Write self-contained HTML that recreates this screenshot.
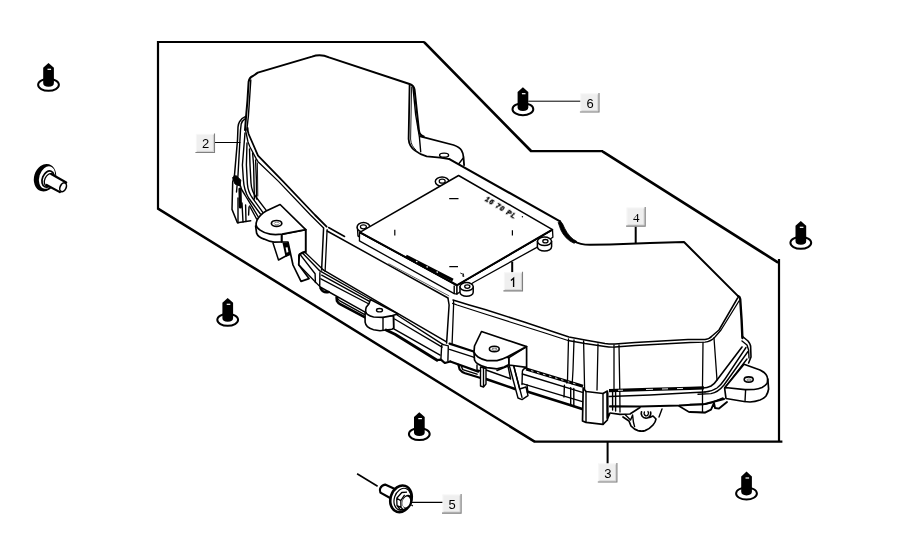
<!DOCTYPE html>
<html><head><meta charset="utf-8">
<style>
html,body{margin:0;padding:0;background:#fff;}
body{width:898px;height:553px;overflow:hidden;font-family:"Liberation Sans",sans-serif;}
svg{display:block;position:absolute;left:0;top:0;will-change:transform;}
.f{fill:none;stroke:#000;stroke-width:2.2;stroke-linejoin:miter;stroke-linecap:butt;}
.a{fill:none;stroke:#000;stroke-width:1.9;stroke-linejoin:round;stroke-linecap:round;}
.b{fill:none;stroke:#000;stroke-width:1.4;stroke-linejoin:round;stroke-linecap:round;}
.c{fill:none;stroke:#000;stroke-width:0.9;stroke-linejoin:round;stroke-linecap:round;}
.w{fill:#fff;stroke:#000;stroke-width:1.4;stroke-linejoin:round;}
.lt{font-family:"Liberation Sans",sans-serif;font-size:13px;fill:#000;text-anchor:middle;}
.ls{font-family:"Liberation Serif",serif;font-size:13px;fill:#000;text-anchor:middle;}
</style></head><body>
<svg width="898" height="553" viewBox="0 0 898 553">
<defs>
<g id="clip">
  <ellipse cx="0" cy="21.9" rx="10.4" ry="6" fill="#fff" stroke="#000" stroke-width="2"/>
  <path d="M0,0 L5.4,4.8 L5.4,20 Q5.4,23.8 0,23.8 Q-5.3,23.8 -5.3,20 L-5.3,4.8 Z" fill="#000"/>
  <path d="M-1,6.4 L2.6,6.4" stroke="#fff" stroke-width="1.2" fill="none"/>
</g>
<g id="lab">
  <rect x="0" y="0" width="19" height="19" fill="#efefef"/>
  <path d="M0,0.4 L17,0.4 M0.4,0 L0.4,17" fill="none" stroke="#f8f8f8" stroke-width="0.8"/>
  <path d="M1,17.4 L17.4,17.4 L17.4,1" fill="none" stroke="#cfcfcf" stroke-width="1"/>
  <path d="M-0.6,18.5 L18.5,18.5 L18.5,-0.6" fill="none" stroke="#808080" stroke-width="1.1"/>
</g>
</defs>
<rect width="898" height="553" fill="#fff"/>

<!-- FRAME -->
<g id="frame">
<path class="f" d="M158,209.4 L158,42 L424.4,42"/>
<path class="f" d="M530.6,151.2 L603,151.2"/>
<path class="f" style="stroke-width:2.7;stroke-linecap:round" d="M424.6,42.6 L530.8,150.8"/>
<path class="f" style="stroke-width:2.6;stroke-linecap:round" d="M603.2,151.8 L777.4,262.1"/>
<path class="f" d="M779,259 L779,442"/>
<path class="f" d="M782.4,441.6 L534.4,441.6"/>
<path class="f" style="stroke-width:2.45;stroke-linecap:round" d="M534.2,441.4 L158.4,208.9"/>
</g>

<g id="body">
<!-- ===== cover top silhouette ===== -->
<path class="a" style="stroke-width:2" d="M245,130 L246.2,115 L247.5,100 L248.6,82 Q249.2,77.5 253,76 L257.8,72.6 L312,56.6 Q320.5,53.4 329,57.4 L409.5,84 Q414,85.6 414.6,90 L419,131 Q419.6,135.3 423.7,136.5"/>
<path class="b" d="M250.8,80 L249.5,100 L248.4,116 L246.8,130"/>
<!-- cover right notch wall -->
<path class="a" style="stroke-width:1.8" d="M409.6,85 L408.6,139 Q409,146 414.7,150.4 Q420,154.6 426.7,156.4 L440.1,157.7 L449.4,159.1"/>
<path class="c" d="M411.6,87 L410.6,139 Q411,146 416,150"/>
<path class="b" d="M413,87.7 L415.7,115 L419.4,137 L420.7,151.7"/>
<!-- rear tab -->
<path class="a" style="stroke-width:1.8" d="M420.2,136.3 L453.5,145 Q459.5,147 461.5,150.4 Q463.3,153.5 463.5,157.1 L464.1,165.1"/>
<path class="b" d="M458.8,163.8 L463.3,158"/>
<ellipse cx="444.1" cy="155.2" rx="4.5" ry="2.1" fill="#fff" stroke="#000" stroke-width="1.4"/>
<!-- back edge -->
<path class="a" style="stroke-width:2.1" d="M449.4,159.1 L559.6,221.1"/>
<path d="M560.1,220.6 Q562.6,223 564.7,228.4 Q567,233 570.1,236.4 Q573,239.6 576.8,241.4 L574.1,243.3 Q569.6,241.4 566.1,237.8 Q562.6,234 560.7,229.7 Q559.4,226 558.2,222.6 Z" fill="#000" stroke="#000" stroke-width="0.8" stroke-linejoin="round"/>
<path class="a" style="stroke-width:2" d="M573.5,241 Q580,244.7 590,244.8 L610,244.4 L650,243.1 L684,242 L738.6,296.6"/>

<!-- ===== left side ===== -->
<!-- cover lower-left curve + diagonal double line -->
<path class="a" style="stroke-width:1.8" d="M247.6,128 Q247.6,131 248.6,134 L253.4,145 L258,155.7 L282.8,181.1 L315,215 L326.6,226.6"/>
<path class="b" style="stroke-width:1.3" d="M245.5,130 L248,142 L250,147 L256,158.4 L258,161.7 L278.5,181.4 L310.5,215 L323.4,227.7"/>
<!-- fin -->
<path class="a" style="stroke-width:1.5" d="M245.7,116.4 Q241.6,118 239.6,121.6 Q238.2,124 238,127 L237.5,140 L234.5,175 L232.7,182 L232,209.4 L237.4,222.8 L250.7,220.8"/>
<path class="b" d="M245,118.8 Q242.2,120.4 241.2,124 L240.5,130 L238,175 L236.5,192"/>
<path class="b" d="M245,133 L242.4,165 L243.4,180 Q244,190 248.6,198 L260.4,214"/>
<path class="b" d="M247,143 L246.4,165 L247.4,184 Q248,192 252.5,198 L263,212.6"/>
<path class="b" d="M249.5,149 L250,165 L251,183 Q251.5,191 256,197 L267,211.4"/>
<path class="b" d="M252.6,153 L253.6,165 L254.4,199"/>
<path class="b" d="M255.6,160 L256.4,180 L256.6,199"/>
<path class="c" d="M257.4,163 L257.8,196"/>
<!-- left connector block details -->
<path d="M232.6,177.5 L236,175.6 L240.8,180 L240,186 L235,184 Z" fill="#000" stroke="#000" stroke-width="1"/>
<path class="a" style="stroke-width:3.2" d="M240,189 L240.4,207"/>
<path class="b" d="M238,198 L238,223"/>
<path class="b" d="M242,203 L243,222"/>
<path class="b" d="M245.6,205 L246,221.6"/>
<path class="b" d="M249,207 L248.6,215"/>
<!-- curved rails into left tab -->
<path class="b" d="M239.5,183 Q241,190 245,195 L258,216.5"/>
<path class="b" d="M249.6,206 L256.6,219"/>
<!-- left tab -->
<path class="w" style="stroke-width:1.7" d="M281.6,234.4 L305.7,229.6 L305.7,252 L299.4,254.4 L298.7,264.7 L309,278.6 L301,281.4 L293,265 L288,242 L281.6,241.8 Z"/>
<path class="w" style="stroke-width:1.7" d="M255.6,226 L256.6,233.1 Q258,237 264.1,239.1 Q269,241.6 274.1,242.1 L281.6,241.8 L281.6,234.4 Z"/>
<path class="w" style="stroke-width:1.7" d="M280.1,204.5 L305.7,229.6 L282.1,234.1 Q275,235 270.1,234.1 Q264,233 260.1,230.1 Q256.4,227.6 256.1,225.1 Q256,222.6 257.1,220 Q260,214.6 266.1,211 Z"/>
<path class="b" d="M281.6,234.6 L281.6,241.6"/>
<path class="a" style="stroke-width:1.5" d="M305.7,229.6 L305.7,252.7"/>
<ellipse cx="276.6" cy="223.4" rx="5.2" ry="2.9" fill="#fff" stroke="#000" stroke-width="1.7"/>
<ellipse cx="276.8" cy="223.5" rx="2.6" ry="1.2" fill="none" stroke="#777" stroke-width="0.8"/>
<!-- corner vertical edge -->
<path class="a" style="stroke-width:1.5" d="M323.6,228 L321.6,270"/>
<path class="b" style="stroke-width:1.3" d="M327.1,229.6 L325.1,271.4"/>
<!-- cover top front edge (left part) -->
<path class="a" style="stroke-width:1.5" d="M328.6,227.5 L344.6,236.5"/>
<path class="a" style="stroke-width:1.5" d="M327.1,231 L385,263.1 L448,298"/>
<path class="c" style="stroke:#555" d="M388.8,263.8 L448.9,295.8"/>
<!-- left tab legs -->
<path class="b" style="stroke-width:1.5" d="M273,243 L278.5,260 L287.7,255"/>
<path d="M282.4,242.6 L288.4,242.4 L290.6,255 L285.6,257 Z" fill="#000"/><path d="M285.6,247.6 L287.6,247.2 L288.4,252 L286.6,252.8 Z" fill="#fff"/>
<!-- lower-left rail seg 1 -->
<path class="b" style="stroke-width:1.3" d="M304.7,252 L323.2,269.8"/>
<path class="b" d="M302.5,253 L319.4,270.6"/>
<path class="b" style="stroke-width:1.3" d="M305.5,251.4 Q300.5,252 298.7,255.4 L298.7,264.7 L315.4,282 L319.7,286.4"/>
<path class="b" d="M300,254.4 L315.1,273.7 L315.4,282.5"/>
<path class="b" d="M319.9,272.6 L319.7,286.2"/>
<!-- rail seg 2 -->
<path class="a" style="stroke-width:1.5" d="M323.2,269.8 L395,311.8 L446.1,341.6"/>
<path class="b" d="M319.4,270.6 L370.5,299.5"/>
<path class="b" d="M321.7,275.2 L369,301.2"/>
<path class="b" d="M320.9,278.8 L369,304"/>
<path class="a" style="stroke-width:1.5" d="M320.1,287 L352.1,304.8 L365.1,312.2"/>
<path class="a" style="stroke-width:2.4" d="M320.4,288 Q323,293.4 328.7,292"/>
<!-- slot below rail -->
<path class="a" style="stroke-width:2.6" d="M336.6,297.4 L337,301 Q338,303 340.1,304.1 L365.1,317.4"/>
<path class="b" d="M336.6,297.1 L339.4,300.6 L364.3,314.3"/>
<!-- mid tab -->
<path class="w" style="stroke-width:1.6" d="M365.1,312.7 L365.1,322.1 Q365.6,325 367.4,326.7 Q370,329 373.6,329.8 L380,330.8 L392.1,329.2 L393.8,328 L393.6,316 Z"/>
<path class="w" style="stroke-width:1.6" d="M370.5,299.5 L369,303.8 L366.2,307.3 Q365.4,309.6 365.9,311.9 Q366.4,313.4 367.4,314.3 Q370,316.4 373.6,317 L383,317.4 L392.4,315.6 L397.8,313.9 Z"/>
<path class="b" d="M383,317.4 L383,330.2"/>
<path class="b" d="M393.4,316 L393.6,328"/>
<ellipse cx="379.5" cy="310.2" rx="3" ry="1.7" fill="#fff" stroke="#000" stroke-width="1.4"/>
<!-- rail seg 3 -->
<path class="b" d="M397.1,315 L443.1,344.6"/>
<path class="b" d="M394.6,319 L442.1,347.1"/>
<path class="b" d="M393.8,328.8 L440.1,355.1"/>
<path class="a" style="stroke-width:2.8" d="M386,330 L395,334.2 L437.1,360.2"/>
<!-- right kink -->
<path class="b" d="M441.7,345.1 L440.9,359.2 M448.3,346.7 L447.9,360.7"/>
<path class="b" d="M442.5,344.4 L448.3,345.9"/>
<path class="a" style="stroke-width:2.2" d="M437.1,360 L440.9,359.6 L444.8,363 L450.3,361.5"/>
<!-- seg 4 kink -> right tab -->
<path class="a" style="stroke-width:2.2" d="M449.5,343.6 L474.4,351.8"/>
<path class="b" d="M449.5,349.4 L473.6,357.2"/>
<path class="a" style="stroke-width:2.2" d="M450.3,361.5 L478.3,371.6"/>
<path class="a" style="stroke-width:2.2" d="M458.4,364.8 L459.6,369.3 Q461.6,372 465.1,373.2 L479.9,377.8"/>
<path class="b" d="M461.4,366.4 L462.8,369.6 L477,374.2"/>
<!-- vertical mid edge -->
<path class="a" style="stroke-width:1.5" d="M448,298.4 L449.1,305 L446.6,343.1"/>
<path class="b" style="stroke-width:1.3" d="M453.6,301 L453.6,305 L452.1,343.4"/>
<!-- left rails under big tab -->
<path class="b" d="M486,370 L510,378.5"/>
<path class="a" style="stroke-width:2.4" d="M486,379 L515,389"/>
<path class="b" d="M497,370.5 L508,366 L510.6,379"/>
<!-- big tab legs -->
<path class="w" d="M480.5,367 L480.5,386 L483.5,387 L486,384 L486,368.5 Z"/>
<path class="b" d="M483.5,368 L483.5,386.6"/>
<path class="b" d="M477,365 L477,370 L480.5,371"/>
<path class="w" d="M509,364.5 L518,398 L522,399.6 L528,395.6 L526,387 L519.6,389 L513,363 Z"/>
<path class="b" d="M513,363 L522,397.4"/>
<!-- big tab -->
<path class="w" style="stroke-width:1.7" d="M474,352 L474.5,360 Q475.6,362.6 478,364 Q482,366.6 487,367.6 L497,368.8 L504,367 L509,364.6 L509,357.6 Z"/>
<path class="w" style="stroke-width:1.7" d="M509,357.6 L509,365 L526.6,367.4 L526.6,346.6 Z"/>
<path class="w" style="stroke-width:1.7" d="M481.5,331.5 L526.6,346.6 L507,357 Q502,359.6 497,360.6 L487,360.6 Q482,359.6 478,357 Q475,355 474,352 L474.5,346 Z"/>
<ellipse cx="494.3" cy="349" rx="4.9" ry="2.7" fill="#fff" stroke="#000" stroke-width="1.6"/>
<ellipse cx="494.5" cy="349.2" rx="2.5" ry="1.1" fill="none" stroke="#444" stroke-width="0.8"/>
<!-- rail after big tab -->
<path d="M526.2,369 L583,386.2" stroke="#000" stroke-width="3" fill="none"/>
<path d="M531,370.6 L533.4,371.3 M537,372.4 L539.4,373.1 M543,374.2 L545.4,374.9 M549,376 L551.4,376.7 M555,377.8 L557.4,378.5 M561,379.6 L563.4,380.3 M567,381.4 L569.4,382.1 M573,383.2 L575.4,383.9" stroke="#fff" stroke-width="0.8" fill="none"/>
<path class="b" d="M526.6,368 Q523.4,368.4 522.4,371 L522,384.5 "/>
<path class="b" d="M522.3,374 L582.4,392.3"/>
<path class="b" d="M522.3,383.7 L582.4,401.6"/>
<path class="a" style="stroke-width:2.6" d="M527.8,391.8 L569.9,404.9 L583,409.2"/>
<path class="b" d="M527,384.8 L527.8,391.5"/>
<path class="b" d="M564.4,385.3 L564,397 M570.7,387.6 L570.7,405.5 M573.8,388.5 L573.8,406.5"/>
<!-- ===== right part of cover ===== -->
<!-- front top edge double line -->
<path class="a" style="stroke-width:1.5" d="M453,300 L469.2,305 L485,309.5 L524.1,322 L545,329 L569,337 L585,340 L605,343.5 Q610,344.2 615,344 L635,342.5 L688,339.6 L705,339.5 Q709.5,339 712,336 L719,330 L737.6,298"/>
<path class="b" style="stroke-width:1.3" d="M452.6,303.4 L457.1,305 L485,314 L510.1,322 L545,333 L568,340.5 L585,343.5 L605,346.5 Q610,347.2 615,347 L635,345.5 L690,342.5 L705,342.2 Q711,341.4 715,337 L721,330 L739,301"/>
<!-- top right corner + right edge -->
<path class="a" style="stroke-width:2.4" d="M738.2,296.2 Q740,297 740.2,299 L741.6,320 L742.4,338"/>
<!-- ribs on front wall -->
<path class="b" style="stroke-width:1.3" d="M568.5,339 L567.5,380 L566.8,383"/>
<path class="b" style="stroke-width:1.3" d="M574,340 L573,370 L572.2,384"/>
<path class="b" style="stroke-width:1.3" d="M583.6,341 L584.6,389"/>
<path class="b" style="stroke-width:1.3" d="M598,344 L597,390"/>
<path class="b" style="stroke-width:1.3" d="M614,345 L614,390.5"/>
<path class="b" style="stroke-width:1.3" d="M619,345 L619.8,390.5 L620,412"/>
<path class="b" style="stroke-width:1.3" d="M703,342.5 L702.5,385 L702.5,412"/>
<path class="b" style="stroke-width:1.3" d="M714,338 L717,380"/>
<!-- bump at right edge -->
<path class="a" style="stroke-width:1.6" d="M742,336 L748,341 Q750,343.4 750.6,346 L751,357 L748.6,363"/>
<path class="b" d="M742,341 L747,345 L748.6,350 L749,358"/>
<!-- flange diagonals (right) -->
<path class="a" style="stroke-width:1.6" d="M742,347 L717,380 Q714.5,384 711,386 Q707,388 703,388"/>
<path class="b" d="M746,347.5 L725,379 Q721,385 717,388 Q712,391.4 705,392"/>
<path class="b" d="M748,351.5 L724,385 Q718,392.4 711,393.6 L698,394.2"/>
<path class="b" d="M747,359 L727,385 L725,387.5"/>
<!-- right tab -->
<path class="w" style="stroke-width:1.7" d="M767.8,379 L768.6,389 Q768,393 766,396 Q763.6,398.6 760,400 Q755,401.8 750,402 L744,401.5 L726,398.5 L724.6,388 Z"/>
<path class="w" style="stroke-width:1.7" d="M744,364.2 L760,370 Q764,372 766,374.5 Q767.8,377 767.6,379.4 Q767.6,382 767,383.5 Q765,386 762,387.5 Q758.6,389 754,389.5 L745,389.6 L725,387.5 Z"/>
<path class="b" d="M745.6,390 L745,401.5"/>
<ellipse cx="748.7" cy="379.5" rx="4.5" ry="2.6" fill="#fff" stroke="#000" stroke-width="1.6"/>
<ellipse cx="749" cy="380" rx="2.2" ry="1" fill="none" stroke="#555" stroke-width="0.8"/>
<!-- lower flange right -->
<path class="b" d="M690,404.5 L703,404.5 L712,402.5 L723,398"/>
<path class="a" d="M690,412 L705,412.6 L711,409.6 L714,403 L715,408 L719,408.6 L727,402"/>
<!-- ===== flange middle & connector block ===== -->
<!-- thick top band right of block -->
<path d="M609,390.6 L650,389.4 L690,388.3 L704,387.9" stroke="#000" stroke-width="3.2" fill="none"/>
<path d="M618,390.3 L623,390.2 M646,389.5 L653,389.3 M662,389 L668,388.8 M677,388.6 L683,388.4" stroke="#fff" stroke-width="0.9" fill="none"/>
<path class="b" d="M609,396.5 L650,395 L690,392.8 L705,392"/>
<path class="a" style="stroke-width:2.2" d="M610,406.4 L640,406.5 L679,405.5 L705,404 L724,399"/>
<path class="a" style="stroke-width:1.5" d="M679,406 L689,412 L705,412.5"/>
<path class="a" style="stroke-width:1.6" d="M610,413 L620,414.4 L630,414 L640,407.5"/>
<path class="b" d="M612.6,392 L612.6,410 M615.6,392 L615.6,411"/>
<!-- connector block -->
<path class="w" style="stroke-width:1.7" d="M583.2,388 L582.5,421 L586,422.4 L603,424.4 L607.4,420 L607.4,391 L603,393.5 L586,391.5 Z"/>
<path class="b" style="stroke-width:1.4" d="M586,391.5 L586,422.4 M603,393.5 L603,424.4"/>
<path class="a" style="stroke-width:2" d="M607.4,393 L607.6,418 L609.4,414"/>
<!-- hook -->
<path class="b" style="stroke-width:1.7" d="M623,417 L629,421 L631,426 Q634,429.4 638,430.6 Q642,431.6 645,430.6 Q650,428.6 653,425 Q655.6,422 656,419 L653,416 L649.6,417.4"/>
<path class="b" d="M625,414.6 L630.6,420 L632.6,415 L633.4,422 L634.6,426.6"/>
<path class="b" style="stroke-width:1.7" d="M641.5,411.8 A4.8,4.8 0 1 0 650.6,412"/>
<path class="b" d="M644.4,412 A2.2,2.6 0 1 0 648,411.6"/>
<path class="b" style="stroke-width:1.4" d="M662,409 L659,417"/>
</g>
<g id="module">
<!-- module tabs behind -->
<ellipse class="w" style="stroke-width:1.5" cx="442.1" cy="181.6" rx="6.8" ry="4.7"/>
<ellipse cx="442.2" cy="181.2" rx="3" ry="2" fill="none" stroke="#000" stroke-width="1.2"/>
<path class="w" d="M357.4,227 L358,236 L362,238 L369.5,228 Z" />
<ellipse class="w" style="stroke-width:1.5" cx="363.5" cy="227.2" rx="6.4" ry="4.7"/>
<ellipse cx="363.4" cy="226.8" rx="3" ry="2" fill="none" stroke="#000" stroke-width="1.2"/>
<!-- module body sides -->
<path class="w" style="stroke-width:1.3" d="M359.6,232.4 L359.4,240.9 L454.2,293.6 L457,294 L457,285.3 Z"/>
<path class="w" style="stroke-width:1.3" d="M457,285.3 L457,294 L473.4,282.5 L536.4,247.6 L552.9,237.2 L552.5,229.6 Z"/>
<path class="b" d="M454.2,286 L454.2,293.6"/>
<!-- right tab cylinder -->
<path class="w" style="stroke-width:1.5" d="M537.4,241.3 L537.4,246.8 A7,4.2 0 0 0 551.6,246.8 L551.6,241.3 Z"/>
<ellipse class="w" style="stroke-width:1.5" cx="544.5" cy="241.3" rx="7" ry="4.2"/>
<ellipse cx="545.4" cy="241.2" rx="2.6" ry="1.7" fill="#fff" stroke="#000" stroke-width="1.3"/>
<!-- bottom tab cylinder -->
<path class="w" style="stroke-width:1.5" d="M460,286.7 L460,292.2 A6.6,4.1 0 0 0 473.2,292.2 L473.2,286.7 Z"/>
<ellipse class="w" style="stroke-width:1.5" cx="466.6" cy="286.7" rx="6.6" ry="4.1"/>
<ellipse cx="467.3" cy="286.6" rx="2.6" ry="1.7" fill="#fff" stroke="#000" stroke-width="1.3"/>
<!-- top face -->
<path d="M458.6,175.5 L552.5,229.6 L457,285.3 L359.8,232.3 Z" fill="#fff" stroke="#000" stroke-width="1.5" stroke-linejoin="round"/>
<path class="a" style="stroke-width:2" d="M360.5,232.6 L456.6,285"/>
<path class="a" style="stroke-width:2" d="M457.2,285 L552,229.9"/>
<!-- connector band -->
<path d="M406.1,256 L452.9,280.1" stroke="#000" stroke-width="3" fill="none"/>
<path d="M416,261.2 L417.4,261.9 M426.5,266.6 L427.9,267.3 M436.5,271.7 L437.9,272.4" stroke="#fff" stroke-width="1.2" fill="none"/>
<!-- marks -->
<path d="M449.2,198.7 L458.5,198.7 M449.3,266.7 L458,266.7" stroke="#000" stroke-width="1.3" fill="none"/>
<path d="M394.8,229.7 L394.8,235.6 M512.4,230.2 L512.4,235.5" stroke="#000" stroke-width="1.2" fill="none"/>
<!-- tiny text -->
<g style="will-change:transform"><g transform="translate(484.6,200.4) rotate(32)" style="font-family:'Liberation Sans',sans-serif;font-size:6.6px;font-weight:bold;font-style:italic">
<text x="0" y="0" fill="#000" stroke="#000" stroke-width="0.45" textLength="34.5" lengthAdjust="spacing">16 70 PL</text></g></g>
<circle cx="522.4" cy="216.8" r="0.7" fill="#000"/>
<path d="M460.3,273 L463.6,274.6 M463.2,273.4 L463.8,276.6 L462,275.6" stroke="#000" stroke-width="0.9" fill="none"/>
</g>
<g id="screws">
<!-- screw 1 (top-left) -->
<g>
<ellipse cx="45" cy="177.7" rx="10.9" ry="14" transform="rotate(17 45 177.7)" fill="#000"/>
<ellipse cx="47.1" cy="177.6" rx="7.8" ry="11.5" transform="rotate(17 47.1 177.6)" fill="#fff"/>
<ellipse cx="48" cy="179" rx="5.6" ry="8.4" transform="rotate(22 48 179)" fill="#fff" stroke="#000" stroke-width="1.7"/>
<ellipse cx="49" cy="180" rx="4.2" ry="6.6" transform="rotate(24 49 180)" fill="#fff" stroke="#000" stroke-width="1.3"/>
<path d="M51.6,174.2 L66.2,182.5 Q67.4,187 64.6,190.4 Q62.6,192.6 59.9,192.1 L46.3,184.8 Z" fill="#fff" stroke="none"/>
<path d="M51.2,174 L66.2,182.5 M59.9,192.1 L46.6,185" fill="none" stroke="#000" stroke-width="2.2" stroke-linecap="round"/>
<ellipse cx="63.1" cy="187.3" rx="3" ry="4.7" transform="rotate(24 63.1 187.3)" fill="#fff" stroke="#000" stroke-width="1.6"/>
</g>
<!-- screw 5 (bottom) -->
<g>
<path d="M357.1,473.8 L377.6,486.3" stroke="#000" stroke-width="1.6" fill="none"/>
<path d="M385.1,484.6 L396,489.6 L390.6,498.3 L380.4,492.6 Q379.4,490.4 380.2,488.4 Q381.6,485.2 385.1,484.6 Z" fill="#fff" stroke="#000" stroke-width="2.2" stroke-linejoin="round"/>
<ellipse cx="401" cy="498.8" rx="10.4" ry="13.6" transform="rotate(18 401 498.8)" fill="#fff" stroke="#000" stroke-width="2.6"/>
<ellipse cx="402.4" cy="499.2" rx="8.1" ry="11.2" transform="rotate(18 402.4 499.2)" fill="none" stroke="#000" stroke-width="1.2"/>
<path d="M396.7,498.3 L401.8,492.5 L407,492.2 M396.7,498.3 L397,505.5 L400,509.4 L405,510.2 M396.7,498.3 L400.8,500.6 L401,507.4 L397,505.5 M400.8,500.6 L404.6,494.8 M401,507.4 L403.4,510" fill="none" stroke="#000" stroke-width="1.3" stroke-linejoin="round"/>
<ellipse cx="407.2" cy="501.6" rx="5" ry="6.9" transform="rotate(18 407.2 501.6)" fill="#000"/>
<ellipse cx="406.2" cy="502" rx="3.7" ry="5.6" transform="rotate(18 406.2 502)" fill="#fff"/>
<path d="M411.2,504.8 L412.8,506" stroke="#000" stroke-width="1.2"/>
</g>
</g>
<!-- FASTENERS -->
<g id="fasteners">
<use href="#clip" x="48.5" y="62.9"/>
<use href="#clip" x="522.9" y="87.3"/>
<use href="#clip" x="800.8" y="220.9"/>
<use href="#clip" x="227.7" y="297.9"/>
<use href="#clip" x="419.3" y="412.2"/>
<use href="#clip" x="746.5" y="471.6"/>
</g>

<!-- LABELS -->
<g id="labels">
<path class="c" style="stroke-width:1" d="M215,142.5 L240,142.5"/>
<path class="c" style="stroke-width:1" d="M528.7,101.2 L580.5,101.2"/>
<path class="f" style="stroke-width:2" d="M635.7,226 L635.7,244"/>
<path class="f" style="stroke-width:2" d="M512.2,261.7 L512.2,272.5"/>
<path class="f" style="stroke-width:2" d="M607.6,442 L607.6,464"/>
<path class="c" style="stroke-width:1.2" d="M411,502.3 L443,502.3"/>
<g style="will-change:transform">
<use href="#lab" x="196" y="134"/><text class="lt" x="205.6" y="148.1">2</text>
<use href="#lab" x="580.5" y="93.5"/><text class="lt" x="590" y="107.6">6</text>
<use href="#lab" x="626.7" y="207.6"/><text class="ls" x="636.2" y="221.7">4</text>
<use href="#lab" x="504" y="272.4"/><path d="M510.9,280.4 L513.6,278.2 L513.6,286.9" fill="none" stroke="#000" stroke-width="1.35"/>
<use href="#lab" x="598.4" y="463.5"/><text class="lt" x="607.9" y="477.6">3</text>
<use href="#lab" x="442.6" y="494.6"/><text class="lt" x="452.2" y="508.7">5</text>
</g>
</g>
</svg>
</body></html>
